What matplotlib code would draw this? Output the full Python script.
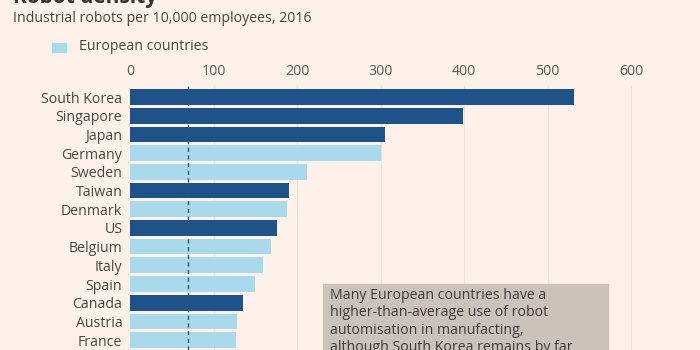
import matplotlib.pyplot as plt

countries = ['South Korea', 'Singapore', 'Japan', 'Germany', 'Sweden', 'Taiwan',
             'Denmark', 'US', 'Belgium', 'Italy', 'Spain', 'Canada', 'Austria', 'France']
density = [532, 399, 305, 301, 212, 190, 188, 176, 169, 159, 150, 135, 128, 127]
european = [False, False, False, True, True, False, True, False, True, True, True,
            False, True, True]
world_avg = 70
xticks = [0, 100, 200, 300, 400, 500, 600]

bg = '#fdf1ea'
dark = '#1f5288'
light = '#a9d9ea'
txt = '#4a4542'
fs = 10.2

plt.rcParams['font.family'] = ['Open Sans', 'DejaVu Sans']

fig = plt.figure(figsize=(7, 3.5), dpi=100, facecolor=bg)
W, H = 700, 350
ax_top = 86
ax = fig.add_axes([130 / W, 0, 567 / W, (H - ax_top) / H])
ax.set_facecolor(bg)

row_px = 18.7
first_center = 97
top_val = -(first_center - ax_top) / row_px
bottom_val = (H - first_center) / row_px
ypos = list(range(len(countries)))
colors = [light if e else dark for e in european]
ax.barh(ypos, density, height=0.84, color=colors, zorder=2)
ax.set_ylim(bottom_val, top_val)
ax.set_xlim(0, 567 / 0.835)

for v in xticks[1:]:
    ax.axvline(v, color='#efe2d9', lw=0.8, zorder=1)
ax.axvline(world_avg, color='#2b5577', lw=1, ls=(0, (3, 2.5)), zorder=3)

ax.xaxis.tick_top()
ax.set_xticks(xticks)
ax.set_xticklabels([str(t) for t in xticks])
ax.tick_params(axis='x', length=0, pad=5, labelsize=fs, labelcolor='#5e5855')
ax.set_yticks(ypos)
ax.set_yticklabels(countries)
ax.tick_params(axis='y', length=0, pad=5.5, labelsize=fs, labelcolor=txt)
for s in ax.spines.values():
    s.set_visible(False)

# titles, partly cut off at the top as in the source
fig.text(13 / W, 1 + 2 / H, 'Robot density', fontsize=15, fontweight='bold',
         color='#333', va='center')
fig.text(13 / W, 1 - 18 / H, 'Industrial robots per 10,000 employees, 2016',
         fontsize=fs, color=txt, va='center')
fig.patches.append(plt.Rectangle((52 / W, 1 - 52 / H), 14 / W, 9 / H,
                                 transform=fig.transFigure, color=light))
fig.text(79 / W, 1 - 47 / H, 'European countries', fontsize=fs, color=txt,
         va='center')

# annotation box
fig.patches.append(plt.Rectangle((323 / W, 0), 285 / W, 66 / H,
                                 transform=fig.transFigure, color='#cbc2bb',
                                 zorder=5))
fig.text(330 / W, 1 - 288 / H,
         'Many European countries have a\nhigher-than-average use of robot\n'
         'automisation in manufacting,\nalthough South Korea remains by far',
         fontsize=fs, color='#3f3b39', va='top', linespacing=1.22, zorder=6)

fig.savefig('out.png', dpi=100, facecolor=bg)
